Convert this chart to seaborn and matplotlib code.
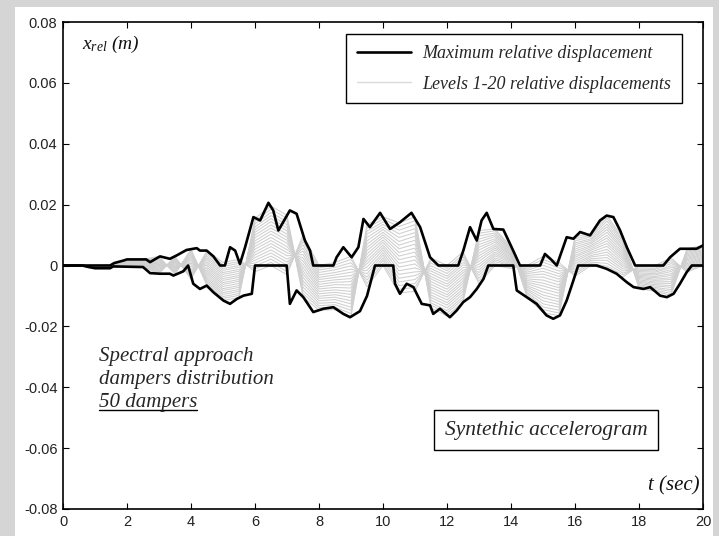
import numpy as np
import pandas as pd
import matplotlib
matplotlib.use("Agg")
import matplotlib.pyplot as plt
from matplotlib.lines import Line2D
from matplotlib.patches import Rectangle
import seaborn as sns

# ---------------- data (displacements in mm) ----------------
upper_t = [0, 1.47, 1.6, 1.88, 2.0, 2.6, 2.72, 3.03, 3.34, 3.55, 3.86, 4.18, 4.28, 4.49, 4.70,
           4.91, 5.06, 5.22, 5.38, 5.53, 5.69, 5.95, 6.16, 6.42, 6.57, 6.73, 7.09, 7.30, 7.56,
           7.72, 7.82, 8.45, 8.55, 8.76, 9.02, 9.23, 9.39, 9.59, 9.91, 10.22, 10.53, 10.89,
           11.16, 11.47, 11.73, 12.35, 12.51, 12.72, 12.93, 13.08, 13.24, 13.45, 13.76, 14.02,
           14.28, 14.91, 15.06, 15.25, 15.43, 15.74, 15.95, 16.16, 16.47, 16.78, 16.99, 17.20,
           17.41, 17.62, 17.88, 18.76, 18.97, 19.28, 19.80, 20.0]
upper_mm = [0, 0, 0.8, 1.6, 2.0, 2.0, 1.1, 3.0, 2.2, 3.3, 5.1, 5.7, 4.9, 4.9, 3.0,
            0, 0, 6.0, 4.9, 0.5, 6.0, 15.9, 14.8, 20.6, 18.1, 11.5, 18.1, 17.0, 8.2,
            4.9, 0, 0, 2.7, 6.0, 2.7, 6.0, 15.3, 12.6, 17.3, 12.0, 14.2, 17.3,
            12.6, 2.7, 0, 0, 4.9, 12.6, 8.2, 14.8, 17.3, 12.0, 11.8, 6.0,
            0, 0, 3.8, 2.0, 0, 9.3, 8.8, 11.0, 9.9, 14.8, 16.4, 15.9,
            11.5, 6.0, 0, 0, 2.7, 5.5, 5.5, 6.6]

lower_t = [0, 0.6, 0.8, 1.0, 1.47, 1.57, 2.5, 2.72, 3.03, 3.34, 3.45, 3.76, 3.91, 4.07, 4.28,
           4.49, 4.70, 5.01, 5.22, 5.43, 5.64, 5.90, 6.0, 6.99, 7.09, 7.30, 7.51, 7.82, 8.14,
           8.45, 8.76, 8.97, 9.28, 9.50, 9.75, 10.32, 10.375, 10.53, 10.74, 10.95, 11.21,
           11.47, 11.57, 11.78, 12.09, 12.30, 12.51, 12.72, 12.93, 13.14, 13.29, 14.07, 14.18,
           14.49, 14.80, 15.11, 15.32, 15.53, 15.74, 15.95, 16.10, 16.68, 16.99, 17.30, 17.62,
           17.83, 18.14, 18.35, 18.66, 18.87, 19.08, 19.28, 19.49, 19.65, 20.0]
lower_mm = [0, 0, -0.5, -0.9, -0.9, -0.3, -0.5, -2.5, -2.7, -2.7, -3.3, -1.9, 0, -6.0, -7.7,
            -6.6, -8.8, -11.5, -12.6, -11.0, -9.9, -9.3, 0, 0, -12.6, -8.2, -10.4, -15.3, -14.2,
            -13.7, -15.9, -17.0, -15.0, -10.0, 0, 0, -6.0, -9.3, -6.0, -7.1, -12.6,
            -13.1, -15.9, -14.2, -17.0, -14.8, -12.0, -10.4, -7.7, -4.4, 0, 0, -8.2,
            -10.4, -12.6, -16.4, -17.5, -16.4, -11.5, -4.9, 0, 0, -1.1, -2.7, -5.5,
            -7.1, -7.7, -7.1, -9.9, -10.4, -9.3, -6.0, -2.2, 0, 0]

level_t = [0.0, 0.5, 1.0, 1.5, 2.0, 2.5, 3.0, 3.5, 4.0, 4.5, 5.0, 5.5, 6.0, 6.5, 7.0, 7.5, 8.0,
           8.5, 9.0, 9.5, 10.0, 10.5, 11.0, 11.5, 12.0, 12.5, 13.0, 13.5, 14.0, 14.5, 15.0,
           15.5, 16.0, 16.5, 17.0, 17.5, 18.0, 18.5, 19.0, 19.5, 20.0]
level_01 = [0.0, 0.0, -0.9, -0.6, -0.3, -0.5, -2.7, 3.0, -4.5, 4.9, 1.0, 2.0, -2.0, 0.0, -3.0, 10.0, 0.0, 1.0, 3.0, -7.0, 0.0, -9.0, -8.5, 2.5, 0.0, 4.5, -6.0, 0.0, -1.0, 0.0, 3.0, 1.0, -3.5, 0.0, -1.1, -3.8, 0.0, 0.0, 2.5, -2.2, 0.0]
level_02 = [0.0, 0.0, -0.9, -0.6, -0.2, -0.4, -2.4, 2.7, -4.0, 4.3, 0.3, 1.3, -1.1, 1.0, -2.0, 8.9, -0.8, 0.2, 2.0, -5.9, 0.8, -7.8, -7.2, 1.6, -0.9, 3.6, -5.1, 0.6, -0.6, -0.5, 2.0, 0.1, -2.8, 0.6, -0.2, -3.1, -0.4, -0.4, 1.9, -1.8, 0.3]
level_03 = [0.0, 0.0, -0.8, -0.5, -0.1, -0.2, -2.1, 2.4, -3.5, 3.7, -0.3, 0.7, -0.2, 2.1, -0.9, 7.9, -1.5, -0.6, 0.9, -4.8, 1.7, -6.6, -5.9, 0.8, -1.7, 2.8, -4.2, 1.3, -0.2, -1.1, 1.1, -0.8, -2.1, 1.1, 0.7, -2.5, -0.8, -0.9, 1.2, -1.4, 0.7]
level_04 = [0.0, 0.0, -0.8, -0.5, 0.1, -0.1, -1.8, 2.1, -2.9, 3.1, -1.0, 0.0, 0.8, 3.1, 0.1, 6.8, -2.3, -1.4, -0.1, -3.8, 2.5, -5.4, -4.6, -0.1, -2.6, 1.9, -3.2, 1.9, 0.1, -1.6, 0.1, -1.8, -1.4, 1.7, 1.7, -1.8, -1.2, -1.3, 0.6, -1.0, 1.0]
level_05 = [0.0, 0.0, -0.7, -0.4, 0.2, 0.0, -1.5, 1.8, -2.4, 2.5, -1.6, -0.6, 1.7, 4.1, 1.1, 5.7, -3.1, -2.3, -1.2, -2.7, 3.4, -4.2, -3.3, -1.0, -3.5, 1.0, -2.3, 2.5, 0.5, -2.2, -0.9, -2.7, -0.8, 2.2, 2.6, -1.1, -1.6, -1.8, -0.1, -0.6, 1.4]
level_06 = [0.0, 0.0, -0.7, -0.4, 0.3, 0.2, -1.2, 1.4, -1.9, 1.9, -2.3, -1.3, 2.6, 5.1, 2.1, 4.7, -3.9, -3.1, -2.2, -1.6, 4.2, -2.9, -2.1, -1.8, -4.3, 0.2, -1.4, 3.2, 0.9, -2.7, -1.9, -3.6, -0.1, 2.8, 3.5, -0.4, -2.0, -2.2, -0.7, -0.2, 1.7]
level_07 = [0.0, 0.0, -0.6, -0.3, 0.4, 0.3, -0.9, 1.1, -1.4, 1.2, -2.9, -1.9, 3.5, 6.2, 3.2, 3.6, -4.6, -3.9, -3.3, -0.5, 5.1, -1.7, -0.8, -2.7, -5.2, -0.7, -0.5, 3.8, 1.3, -3.3, -2.8, -4.5, 0.6, 3.3, 4.4, 0.2, -2.4, -2.7, -1.4, 0.2, 2.1]
level_08 = [0.0, 0.0, -0.6, -0.3, 0.5, 0.4, -0.6, 0.8, -0.9, 0.6, -3.6, -2.6, 4.4, 7.2, 4.2, 2.5, -5.4, -4.7, -4.3, 0.6, 5.9, -0.5, 0.5, -3.6, -6.1, -1.6, 0.4, 4.4, 1.7, -3.8, -3.8, -5.4, 1.3, 3.9, 5.3, 0.9, -2.8, -3.1, -2.0, 0.6, 2.4]
level_09 = [0.0, 0.0, -0.5, -0.3, 0.7, 0.5, -0.3, 0.5, -0.3, 0.0, -4.3, -3.3, 5.4, 8.2, 5.2, 1.5, -6.2, -5.5, -5.3, 1.6, 6.7, 0.7, 1.8, -4.4, -6.9, -2.4, 1.4, 5.1, 2.0, -4.4, -4.8, -6.4, 2.0, 4.4, 6.3, 1.6, -3.2, -3.6, -2.7, 1.0, 2.8]
level_10 = [0.0, 0.0, -0.5, -0.2, 0.8, 0.7, 0.0, 0.2, 0.2, -0.6, -4.9, -3.9, 6.3, 9.2, 6.2, 0.4, -7.0, -6.3, -6.4, 2.7, 7.6, 1.9, 3.1, -5.3, -7.8, -3.3, 2.3, 5.7, 2.4, -4.9, -5.8, -7.3, 2.7, 5.0, 7.2, 2.3, -3.6, -4.0, -3.3, 1.5, 3.1]
level_11 = [0.0, 0.0, -0.4, -0.2, 0.9, 0.8, 0.3, -0.1, 0.7, -1.2, -5.6, -4.6, 7.2, 10.3, 7.3, -0.7, -7.7, -7.2, -7.4, 3.8, 8.4, 3.1, 4.4, -6.2, -8.7, -4.2, 3.2, 6.3, 2.8, -5.5, -6.7, -8.2, 3.3, 5.5, 8.1, 2.9, -3.9, -4.5, -4.0, 1.9, 3.5]
level_12 = [0.0, 0.0, -0.4, -0.1, 1.0, 0.9, 0.6, -0.4, 1.2, -1.8, -6.2, -5.2, 8.1, 11.3, 8.3, -1.8, -8.5, -8.0, -8.5, 4.9, 9.3, 4.3, 5.7, -7.1, -9.6, -5.1, 4.1, 6.9, 3.2, -6.0, -7.7, -9.1, 4.0, 6.1, 9.0, 3.6, -4.3, -4.9, -4.6, 2.3, 3.8]
level_13 = [0.0, 0.0, -0.3, -0.1, 1.2, 1.1, 0.9, -0.7, 1.8, -2.4, -6.9, -5.9, 9.1, 12.3, 9.3, -2.8, -9.3, -8.8, -9.5, 5.9, 10.1, 5.5, 7.0, -7.9, -10.4, -5.9, 5.1, 7.6, 3.5, -6.6, -8.7, -10.1, 4.7, 6.6, 9.9, 4.3, -4.7, -5.4, -5.3, 2.7, 4.2]
level_14 = [0.0, 0.0, -0.3, -0.1, 1.3, 1.2, 1.2, -1.0, 2.3, -3.0, -7.6, -6.6, 10.0, 13.3, 10.3, -3.9, -10.1, -9.6, -10.5, 7.0, 10.9, 6.7, 8.3, -8.8, -11.3, -6.8, 6.0, 8.2, 3.9, -7.1, -9.7, -11.0, 5.4, 7.2, 10.9, 5.0, -5.1, -5.8, -5.9, 3.1, 4.5]
level_15 = [0.0, 0.0, -0.2, 0.0, 1.4, 1.3, 1.5, -1.4, 2.8, -3.7, -8.2, -7.2, 10.9, 14.4, 11.4, -5.0, -10.8, -10.4, -11.6, 8.1, 11.8, 7.9, 9.6, -9.7, -12.2, -7.7, 6.9, 8.8, 4.3, -7.7, -10.6, -11.9, 6.1, 7.7, 11.8, 5.6, -5.5, -6.3, -6.6, 3.5, 4.9]
level_16 = [0.0, 0.0, -0.2, 0.0, 1.5, 1.5, 1.8, -1.7, 3.3, -4.3, -8.9, -7.9, 11.8, 15.4, 12.4, -6.0, -11.6, -11.2, -12.6, 9.2, 12.6, 9.2, 10.8, -10.5, -13.0, -8.5, 7.8, 9.5, 4.7, -8.2, -11.6, -12.8, 6.8, 8.3, 12.7, 6.3, -5.9, -6.7, -7.2, 3.9, 5.2]
level_17 = [0.0, 0.0, -0.1, 0.1, 1.6, 1.6, 2.1, -2.0, 3.8, -4.9, -9.5, -8.5, 12.7, 16.4, 13.4, -7.1, -12.4, -12.1, -13.7, 10.3, 13.5, 10.4, 12.1, -11.4, -13.9, -9.4, 8.7, 10.1, 5.1, -8.8, -12.6, -13.7, 7.4, 8.8, 13.6, 7.0, -6.3, -7.2, -7.9, 4.3, 5.6]
level_18 = [0.0, 0.0, -0.1, 0.1, 1.8, 1.7, 2.4, -2.3, 4.4, -5.5, -10.2, -9.2, 13.7, 17.4, 14.4, -8.2, -13.2, -12.9, -14.7, 11.3, 14.3, 11.6, 13.4, -12.3, -14.8, -10.3, 9.7, 10.7, 5.4, -9.3, -13.6, -14.7, 8.1, 9.4, 14.6, 7.7, -6.7, -7.6, -8.5, 4.7, 5.9]
level_19 = [0.0, 0.0, 0.0, 0.2, 1.9, 1.9, 2.7, -2.6, 4.9, -6.1, -10.8, -9.8, 14.6, 18.5, 15.5, -9.2, -13.9, -13.7, -15.8, 12.4, 15.2, 12.8, 14.7, -13.1, -15.6, -11.1, 10.6, 11.4, 5.8, -9.9, -14.5, -15.6, 8.8, 9.9, 15.5, 8.3, -7.1, -8.1, -9.2, 5.1, 6.3]
level_20 = [0.0, 0.0, 0.0, 0.2, 2.0, 2.0, 3.0, -2.9, 5.4, -6.7, -11.5, -10.5, 15.5, 19.5, 16.5, -10.3, -14.7, -14.5, -16.8, 13.5, 16.0, 14.0, 16.0, -14.0, -16.5, -12.0, 11.5, 12.0, 6.2, -10.4, -15.5, -16.5, 9.5, 10.5, 16.4, 9.0, -7.5, -8.5, -9.8, 5.5, 6.6]

xticks = [0, 2, 4, 6, 8, 10, 12, 14, 16, 18, 20]
xtick_labels = ["0", "2", "4", "6", "8", "10", "12", "14", "16", "18", "20"]
yticks = [0.08, 0.06, 0.04, 0.02, 0.0, -0.02, -0.04, -0.06, -0.08]
ytick_labels = ["0.08", "0.06", "0.04", "0.02", "0", "-0.02", "-0.04", "-0.06", "-0.08"]
legend_labels = ["Maximum relative displacement", "Levels 1-20 relative displacements"]

# ---------------- style ----------------
sns.set_theme(style="white")
plt.rcParams["font.family"] = ["Liberation Sans", "DejaVu Sans"]
plt.rcParams["mathtext.fontset"] = "custom"
plt.rcParams["mathtext.it"] = "Liberation Serif:italic"
plt.rcParams["mathtext.rm"] = "Liberation Serif:italic"

W, H = 719, 536
fig = plt.figure(figsize=(W / 100, H / 100), dpi=100, facecolor="#d5d5d5")
panel = Rectangle((15 / W, 0), (713 - 15) / W, (H - 7) / H,
                  transform=fig.transFigure, facecolor="white",
                  edgecolor="none", zorder=-10)
fig.add_artist(panel)
ax = fig.add_axes([63 / W, 27 / H, 640 / W, 487 / H])
ax.set_zorder(1)
ax.set_facecolor("white")

levels = [level_01, level_02, level_03, level_04, level_05, level_06, level_07,
          level_08, level_09, level_10, level_11, level_12, level_13, level_14,
          level_15, level_16, level_17, level_18, level_19, level_20]
rows = []
for i, vals in enumerate(levels):
    for t, v in zip(level_t, vals):
        rows.append((t, v / 1000.0, i + 1))
df = pd.DataFrame(rows, columns=["t", "x", "level"])

gray = "#cfcfcf"
sns.lineplot(data=df, x="t", y="x", units="level", estimator=None, sort=False,
             color=gray, lw=0.75, ax=ax, legend=False)

up = pd.DataFrame({"t": upper_t, "x": np.array(upper_mm) / 1000.0})
lo = pd.DataFrame({"t": lower_t, "x": np.array(lower_mm) / 1000.0})
sns.lineplot(data=up, x="t", y="x", estimator=None, sort=False, color="black",
             lw=1.9, ax=ax, legend=False)
sns.lineplot(data=lo, x="t", y="x", estimator=None, sort=False, color="black",
             lw=1.9, ax=ax, legend=False)

ax.set_xlim(0, 20)
ax.set_ylim(-0.08, 0.08)
ax.set_xticks(xticks)
ax.set_xticklabels(xtick_labels)
ax.set_yticks(yticks)
ax.set_yticklabels(ytick_labels)
ax.set_xlabel("")
ax.set_ylabel("")
ax.grid(False)
ax.tick_params(direction="in", top=True, right=True, bottom=True, left=True,
               length=4.5, width=0.8, color="black", labelcolor="#222222",
               labelsize=10.5, pad=4)
for sp in ax.spines.values():
    sp.set_color("black")
    sp.set_linewidth(1.2)
    sp.set_visible(True)

serif_it = dict(family=["Liberation Serif", "DejaVu Serif"], style="italic")

ax.text(0.03, 0.953, r"$x_{rel}$ (m)", transform=ax.transAxes, va="center",
        ha="left", fontsize=14, color="#111111", **serif_it)
ax.text(0.995, 0.047, "t (sec)", transform=ax.transAxes, va="center", ha="right",
        fontsize=15, color="#111111", **serif_it)

ax.text(0.056, 0.314, "Spectral approach", transform=ax.transAxes, va="center",
        ha="left", fontsize=15, **serif_it)
ax.text(0.056, 0.265, "dampers distribution", transform=ax.transAxes, va="center",
        ha="left", fontsize=15, **serif_it)
t50 = ax.text(0.056, 0.218, "50 dampers", transform=ax.transAxes, va="center",
              ha="left", fontsize=15, **serif_it)

ax.text(0.755, 0.162, "Syntethic accelerogram", transform=ax.transAxes,
        va="center", ha="center", fontsize=15.5, **serif_it,
        bbox=dict(boxstyle="square,pad=0.5", facecolor="white", edgecolor="black",
                  linewidth=1.0))

handles = [Line2D([], [], color="black", lw=1.9), Line2D([], [], color="#dadada", lw=1.0)]
leg = ax.legend(handles, legend_labels, loc="upper right", bbox_to_anchor=(0.967, 0.975),
                prop=dict(family="Liberation Serif", style="italic", size=13),
                frameon=True, fancybox=False, edgecolor="black", framealpha=1,
                borderpad=0.6, handlelength=3.0, handletextpad=0.6,
                labelspacing=0.75, borderaxespad=0)
leg.get_frame().set_linewidth(1.0)

# underline of "50 dampers"
fig.canvas.draw()
bb = t50.get_window_extent(renderer=fig.canvas.get_renderer())
inv = ax.transAxes.inverted()
(x0, y0) = inv.transform((bb.x0, bb.y0))
(x1, _) = inv.transform((bb.x1, bb.y0))
ax.add_line(Line2D([x0, x1], [y0 + 0.004, y0 + 0.004], transform=ax.transAxes,
                   color="black", lw=1.0))

fig.savefig("out.png", dpi=100, facecolor=fig.get_facecolor())
